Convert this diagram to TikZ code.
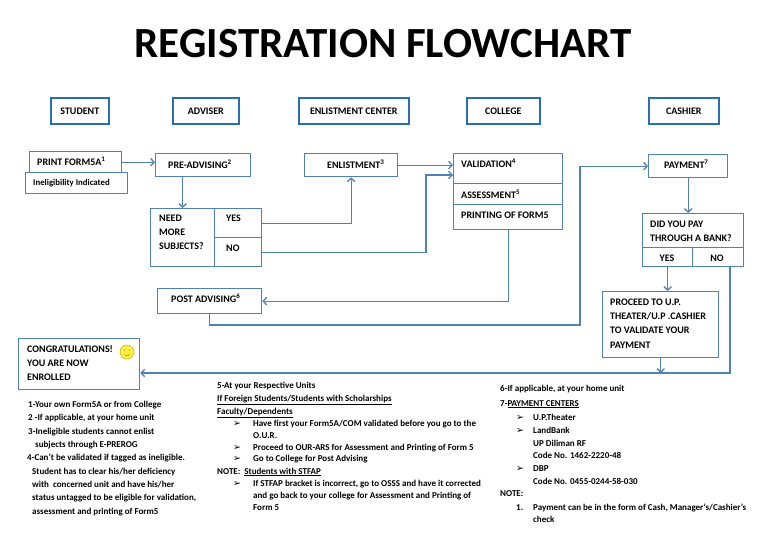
\documentclass[tikz,border=0pt]{standalone}
\usepackage{fontspec}
\setmainfont{Carlito}
\newfontfamily\symfont{DejaVu Sans}
\usetikzlibrary{arrows.meta}
\definecolor{hdrblue}{RGB}{40,110,180}
\definecolor{lineblue}{RGB}{79,129,189}
\definecolor{smileyellow}{RGB}{255,240,70}
\definecolor{smileedge}{RGB}{200,170,0}
\newcommand\sy[1]{\textsuperscript{#1}}
\newcommand\nbul{{\symfont\bfseries\fontsize{9.5}{10}\selectfont ➢}}
\newcommand\nline[4]{\node[note] (#1) at (#2,#3) {#4};}
\tikzset{
 hdr/.style={draw=hdrblue, line width=1.6pt, fill=white, inner sep=0pt, anchor=north west, font=\bfseries\fontsize{10}{12}\selectfont},
 box/.style={draw=lineblue, line width=1.3pt, fill=white, inner sep=0pt, anchor=north west},
 txt/.style={inner sep=0pt, anchor=base west, font=\bfseries\fontsize{10}{12}\selectfont},
 ctxt/.style={txt, anchor=base},
 note/.style={inner sep=0pt, anchor=base west, font=\bfseries\fontsize{9}{10}\selectfont},
 conn/.style={draw=lineblue, line width=1.3pt},
 arr/.style={conn, -{Straight Barb[length=3.5pt,width=7.5pt]}},
}
\begin{document}
\begin{tikzpicture}[x=1pt,y=-1pt]
\fill[white] (0,0) rectangle (768,543);
\useasboundingbox (0,0) rectangle (768,543);

\node[font=\bfseries\fontsize{43}{50}\selectfont, inner sep=0pt, anchor=base] (title) at (383,57) {REGISTRATION FLOWCHART};

% headers
\node[hdr, minimum width=58pt, minimum height=26pt] (hstudent) at (50,97) {STUDENT};
\node[hdr, minimum width=66pt, minimum height=26pt] (hadviser) at (172,97) {ADVISER};
\node[hdr, minimum width=110pt, minimum height=26pt] (henlist) at (298,97) {ENLISTMENT CENTER};
\node[hdr, minimum width=73pt, minimum height=26pt] (hcollege) at (466,97) {COLLEGE};
\node[hdr, minimum width=70pt, minimum height=26pt] (hcashier) at (648,97) {CASHIER};

% boxes
\node[box, minimum width=92pt, minimum height=21pt] (print) at (29,151) {};
\node[box, minimum width=102pt, minimum height=21pt] (inelig) at (25,172) {};
\node[box, minimum width=95pt, minimum height=23pt] (preadv) at (155,153) {};
\node[box, minimum width=64pt, minimum height=58pt] (need) at (150,208) {};
\node[box, minimum width=47pt, minimum height=29pt] (yes) at (214,208) {};
\node[box, minimum width=47pt, minimum height=29pt] (no) at (214,237) {};
\node[box, minimum width=93pt, minimum height=23pt] (enlist) at (304,153) {};
\node[box, minimum width=109pt, minimum height=30pt] (val) at (453,153) {};
\node[box, minimum width=109pt, minimum height=21pt] (assess) at (453,183) {};
\node[box, minimum width=109pt, minimum height=25pt] (printing) at (453,204) {};
\node[box, minimum width=104pt, minimum height=25pt] (postadv) at (157,288) {};
\node[box, minimum width=79pt, minimum height=23pt] (payment) at (648,154) {};
\node[box, minimum width=101pt, minimum height=34pt] (decision) at (642,213) {};
\node[box, minimum width=50pt, minimum height=19pt] (dyes) at (642,247) {};
\node[box, minimum width=51pt, minimum height=19pt] (dno) at (692,247) {};
\node[box, minimum width=116pt, minimum height=66pt] (proceed) at (602,291) {};
\node[box, minimum width=121pt, minimum height=51pt] (congrats) at (18,338) {};

% box texts
\node[txt] (tprint) at (37,165) {PRINT FORM5A\sy{1}};
\node[txt, font=\bfseries\fontsize{8.8}{10}\selectfont] (tinelig) at (33,185) {Ineligibility Indicated};
\node[txt] (tpreadv) at (168,168) {PRE-ADVISING\sy{2}};
\node[txt] (tneed1) at (159,221) {NEED};
\node[txt] (tneed2) at (159,235) {MORE};
\node[txt] (tneed3) at (159,249) {SUBJECTS?};
\node[txt] (tyes) at (226,221) {YES};
\node[txt] (tno) at (226,251) {NO};
\node[txt] (tenlist) at (327,168) {ENLISTMENT\sy{3}};
\node[txt] (tval) at (461,167) {VALIDATION\sy{4}};
\node[txt] (tassess) at (461,198) {ASSESSMENT\sy{5}};
\node[txt] (tprinting) at (461,218) {PRINTING OF FORM5};
\node[txt] (tpostadv) at (171,302) {POST ADVISING\sy{6}};
\node[txt] (tpayment) at (664,168) {PAYMENT\sy{7}};
\node[txt] (tdec1) at (650,227) {DID YOU PAY};
\node[txt] (tdec2) at (650,241) {THROUGH A BANK?};
\node[ctxt] (tdyes) at (667,261) {YES};
\node[ctxt] (tdno) at (717,261) {NO};
\node[txt] (tpro1) at (610,305) {PROCEED TO U.P.};
\node[txt] (tpro2) at (610,319) {THEATER/U.P .CASHIER};
\node[txt] (tpro3) at (610,333) {TO VALIDATE YOUR};
\node[txt] (tpro4) at (610,348) {PAYMENT};
\node[txt] (tcon1) at (27,352) {CONGRATULATIONS!};
\node[txt] (tcon2) at (27,366) {YOU ARE NOW};
\node[txt] (tcon3) at (27,380) {ENROLLED};

% smiley
\draw[fill=smileyellow, draw=smileedge, line width=0.5pt] (127,352) circle[radius=7];
\fill[smileedge!70!black] (124.6,350) circle[radius=0.6];
\fill[smileedge!70!black] (129.4,350) circle[radius=0.6];
\draw[smileedge!70!black, line width=0.4pt] (124,354.5) .. controls (126,356.3) and (128,356.3) .. (130,354.5);

% connectors
\coordinate (nobend) at (426,175);
\coordinate (pbend) at (580,325);
\coordinate (nocorner) at (730,373);
\draw[arr] (print.east) -- (print.east -| preadv.west);
\draw[arr] (need.north |- preadv.south) -- (need.north);
\draw[arr] (yes.east) -| (enlist.south);
\draw[arr] (no.east) -| (nobend) -- (nobend -| val.west);
\draw[arr] (enlist.east) -- (enlist.east -| val.west);
\draw[arr] (printing.south) |- (postadv.east);
\draw[arr] (postadv.south) |- (pbend) |- (payment.west);
\draw[arr] (payment.south) -- (payment.south |- decision.north);
\draw[arr] (dyes.south) -- (dyes.south |- proceed.north);
\draw[arr] (proceed.south) -- (proceed.south |- nocorner);
\draw[arr] (nocorner |- dno.south) -- (nocorner) -- (nocorner -| congrats.east);

% notes block 1
\nline{n1a}{28}{407}{1-Your own Form5A or from College}
\nline{n1b}{28}{420}{2 -If applicable, at your home unit}
\nline{n1c}{28}{434}{3-Ineligible students cannot enlist}
\nline{n1d}{35}{447}{subjects through E-PREROG}
\nline{n1e}{27}{460}{4-Can't be validated if tagged as ineligible.}
\nline{n1f}{32}{474}{Student has to clear his/her deficiency}
\nline{n1g}{32}{487}{with\ \ concerned unit and have his/her}
\nline{n1h}{32}{500}{status untagged to be eligible for validation,}
\nline{n1i}{32}{514}{assessment and printing of Form5}

% notes block 2
\nline{n2a}{217}{388}{5-At your Respective Units}
\nline{n2b}{217}{401}{\underline{If Foreign Students/Students with Scholarships}}
\nline{n2c}{217}{414}{\underline{Faculty/Dependents}}
\nline{b1}{233}{426}{\nbul}
\nline{n2d}{253}{426}{Have first your Form5A/COM validated before you go to the}
\nline{n2e}{253}{438}{O.U.R.}
\nline{b2}{233}{450}{\nbul}
\nline{n2f}{253}{450}{Proceed to OUR-ARS for Assessment and Printing of Form 5}
\nline{b3}{233}{461}{\nbul}
\nline{n2g}{253}{461}{Go to College for Post Advising}
\nline{n2h}{217}{474}{NOTE:\ \ \underline{Students with STFAP}}
\nline{b4}{233}{486}{\nbul}
\nline{n2i}{253}{486}{If STFAP bracket is incorrect, go to OSSS and have it corrected}
\nline{n2j}{253}{498}{and go back to your college for Assessment and Printing of}
\nline{n2k}{253}{510}{Form 5}

% notes block 3
\nline{n3a}{500}{391}{6-If applicable, at your home unit}
\nline{n3b}{500}{406}{7-\underline{PAYMENT CENTERS}}
\nline{b5}{516}{420}{\nbul}
\nline{n3c}{533}{420}{U.P.Theater}
\nline{b6}{516}{433}{\nbul}
\nline{n3d}{533}{433}{LandBank}
\nline{n3e}{533}{446}{UP Diliman RF}
\nline{n3f}{533}{458}{Code No. 1462-2220-48}
\nline{b7}{516}{471}{\nbul}
\nline{n3g}{533}{471}{DBP}
\nline{n3h}{533}{484}{Code No. 0455-0244-58-030}
\nline{n3i}{500}{496}{NOTE:}
\nline{n3j}{516}{510}{1.}
\nline{n3k}{533}{510}{Payment can be in the form of Cash, Manager's/Cashier's}
\nline{n3l}{533}{522}{check}
\end{tikzpicture}
\end{document}
